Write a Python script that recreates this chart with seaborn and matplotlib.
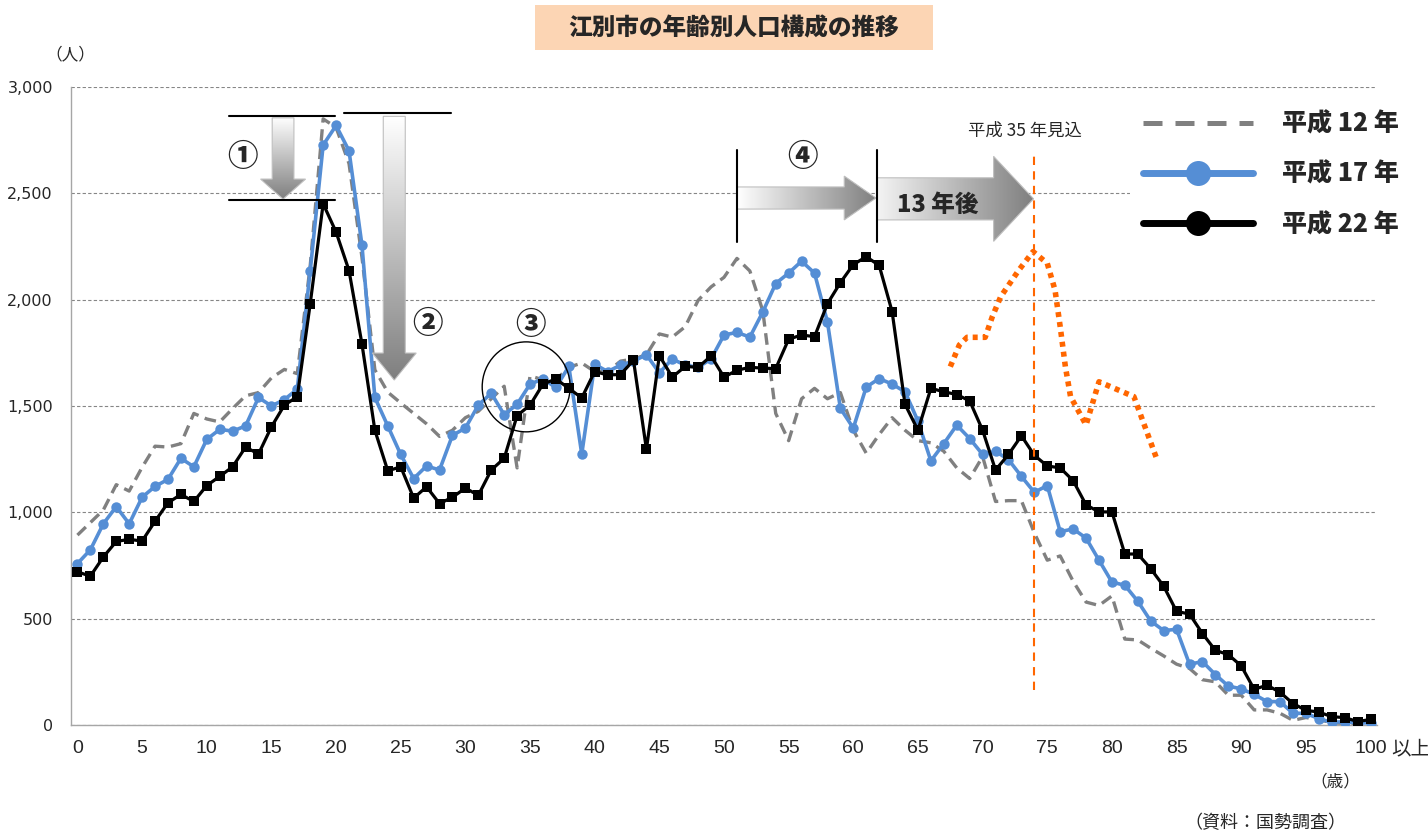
import numpy as np
import pandas as pd
import matplotlib
matplotlib.use("Agg")
import matplotlib.pyplot as plt
import seaborn as sns
from matplotlib.patches import Polygon, Ellipse, Rectangle
from matplotlib.lines import Line2D
from matplotlib.colors import LinearSegmentedColormap
from matplotlib import font_manager

# ---------------- data ----------------
ages = list(range(0, 101))
x_tick_labels = [str(a) for a in range(0, 101, 5)]
y_ticks = [0, 500, 1000, 1500, 2000, 2500, 3000]
y_tick_labels = ["0", "500", "1,000", "1,500", "2,000", "2,500", "3,000"]

h12 = [893, 952, 1011, 1130, 1100, 1212, 1311, 1307, 1323, 1465,
       1439, 1425, 1488, 1548, 1563, 1632, 1672, 1652, 2160, 2850,
       2810, 2640, 2200, 1670, 1565, 1514, 1465, 1416, 1357, 1386,
       1445, 1475, 1534, 1593, 1209, 1642, 1623, 1623, 1682, 1702,
       1662, 1662, 1711, 1721, 1741, 1839, 1824, 1873, 1997, 2060,
       2105, 2194, 2135, 1948, 1465, 1337, 1534, 1583, 1534, 1563,
       1386, 1278, 1366, 1445, 1386, 1337, 1327, 1287, 1209, 1159,
       1262, 1051, 1055, 1055, 903, 775, 795, 676, 578, 562,
       607, 404, 400, 361, 325, 286, 266, 213, 203, 140,
       140, 71, 71, 55, 22, 35, 26, 10, 8, 5, 3]

h17 = [759, 824, 946, 1027, 946, 1071, 1122, 1155, 1254, 1214,
       1343, 1390, 1382, 1406, 1540, 1500, 1530, 1579, 2136, 2727,
       2819, 2700, 2257, 1540, 1406, 1272, 1159, 1218, 1199, 1362,
       1396, 1504, 1560, 1459, 1508, 1603, 1627, 1587, 1686, 1274,
       1696, 1662, 1692, 1711, 1741, 1656, 1721, 1692, 1682, 1721,
       1834, 1846, 1824, 1942, 2076, 2125, 2181, 2125, 1895, 1489,
       1396, 1589, 1629, 1603, 1567, 1429, 1242, 1323, 1410, 1347,
       1272, 1287, 1248, 1169, 1094, 1126, 909, 922, 879, 775,
       672, 657, 582, 489, 444, 450, 286, 298, 237, 183,
       170, 144, 110, 110, 55, 55, 30, 12, 16, 10, 10]

h22 = [720, 700, 790, 863, 873, 865, 958, 1045, 1084, 1051,
       1126, 1169, 1214, 1307, 1274, 1402, 1504, 1544, 1981, 2451,
       2318, 2137, 1792, 1386, 1195, 1214, 1067, 1120, 1041, 1071,
       1114, 1080, 1199, 1254, 1455, 1504, 1603, 1627, 1583, 1538,
       1662, 1646, 1648, 1715, 1297, 1737, 1636, 1686, 1682, 1735,
       1636, 1668, 1682, 1678, 1676, 1814, 1834, 1826, 1981, 2080,
       2165, 2202, 2161, 1944, 1508, 1386, 1583, 1567, 1554, 1524,
       1386, 1199, 1272, 1360, 1268, 1218, 1209, 1149, 1035, 1002,
       1002, 804, 804, 735, 653, 534, 522, 430, 351, 331,
       278, 168, 187, 154, 101, 69, 61, 39, 35, 16, 26]

# projection for H35
proj_age = [67.5, 68.2, 68.8, 70.2, 70.75, 71.4, 72.8, 73.9, 75.0, 75.6,
            76.0, 76.4, 76.8, 78.0, 79.0, 81.7, 83.5]
proj_val = [1685, 1787, 1823, 1823, 1920, 2014, 2139, 2226, 2171, 2045,
            1873, 1685, 1544, 1411, 1614, 1544, 1246]

series_names = ["平成 12 年", "平成 17 年", "平成 22 年"]

# ---------------- style ----------------
sns.set_theme(style="white")
avail = {f.name for f in font_manager.fontManager.ttflist}
jp = "Noto Sans CJK JP"
num_font = "Liberation Sans Narrow" if "Liberation Sans Narrow" in avail else "DejaVu Sans"
plt.rcParams["font.family"] = [jp, "DejaVu Sans"]

W, H = 1428, 834
fig = plt.figure(figsize=(W / 100, H / 100), dpi=100)
fig.patch.set_facecolor("white")
L, R, B, T = 71, 1377, 725, 87
ax = fig.add_axes([L / W, 1 - B / H, (R - L) / W, (B - T) / H])
ax.set_facecolor("white")

GRAY = "#808080"
BLUE = "#558ED5"
ORANGE = "#FF6600"

df12 = pd.DataFrame({"age": ages, "pop": h12})
df17 = pd.DataFrame({"age": ages, "pop": h17})
df22 = pd.DataFrame({"age": ages, "pop": h22})
dfp = pd.DataFrame({"age": proj_age, "pop": proj_val})

sns.lineplot(data=df12, x="age", y="pop", ax=ax, color=GRAY, lw=2.4,
             linestyle=(0, (3.5, 2.0)), legend=False, zorder=3)
sns.lineplot(data=df17, x="age", y="pop", ax=ax, color=BLUE, lw=2.6,
             marker="o", markersize=7.5, markeredgewidth=0, legend=False, zorder=4)
sns.lineplot(data=df22, x="age", y="pop", ax=ax, color="black", lw=2.3,
             marker="s", markersize=7, markeredgewidth=0, legend=False, zorder=5)
sns.lineplot(data=dfp, x="age", y="pop", ax=ax, color=ORANGE, lw=4,
             linestyle=(0, (0.9, 0.9)), sort=False, legend=False, zorder=6)

# axes
ax.set_xlim(-0.5, 100.5)
ax.set_ylim(0, 3000)
ax.set_xlabel("")
ax.set_ylabel("")
for s in ["top", "right"]:
    ax.spines[s].set_visible(False)
for s in ["left", "bottom"]:
    ax.spines[s].set_color("#A6A6A6")
    ax.spines[s].set_linewidth(1.0)

ax.set_xticks(list(range(0, 101, 5)))
ax.set_xticklabels(x_tick_labels, fontsize=14, family="Liberation Sans")
ax.set_xticks(np.arange(-0.5, 101, 1.0), minor=True)
ax.tick_params(axis="x", which="major", length=0, pad=11)
ax.tick_params(axis="x", which="minor", length=5, color="#A6A6A6", width=1, direction="out")
ax.set_yticks(y_ticks)
ax.set_yticklabels(y_tick_labels, fontsize=11.5, family=num_font)
ax.tick_params(axis="y", which="major", length=5, color="#A6A6A6", width=1, pad=8, direction="out")
ax.yaxis.grid(True, color="#868686", lw=0.8, linestyle=(0, (3, 2)))
ax.xaxis.grid(False)
ax.set_axisbelow(True)

# extra axis texts
ax.text(103.1, -0.038, "以上", transform=ax.get_xaxis_transform(), fontsize=14,
        ha="center", va="center", clip_on=False)
fig.text(1335 / W, 1 - 782 / H, "（歳）", fontsize=12, ha="center", va="center")
fig.text(1265 / W, 1 - 823 / H, "（資料：国勢調査）", fontsize=13, ha="center", va="center")
fig.text(70 / W, 1 - 55 / H, "（人）", fontsize=12, ha="center", va="center")

# title box
fig.patches.append(Rectangle((535 / W, 1 - 50 / H), 398 / W, 45 / H,
                             transform=fig.transFigure, facecolor="#FCD5B4",
                             edgecolor="none", zorder=0))
fig.text(734 / W, 1 - 28 / H, "江別市の年齢別人口構成の推移", fontsize=17,
         fontweight="heavy", ha="center", va="center")


# ---------------- annotations ----------------
def grad_poly(verts, direction, c0, c1, z):
    poly = Polygon(verts, closed=True, facecolor="none", edgecolor="#BFBFBF",
                   lw=0.8, zorder=z + 0.1)
    ax.add_patch(poly)
    xs = [v[0] for v in verts]
    ys = [v[1] for v in verts]
    n = 256
    if direction == "h":
        grad = np.linspace(0, 1, n).reshape(1, n)
    else:
        grad = np.linspace(1, 0, n).reshape(n, 1)
    cmap = LinearSegmentedColormap.from_list("g", [c0, c1])
    im = ax.imshow(grad, extent=[min(xs), max(xs), min(ys), max(ys)], origin="lower",
                   cmap=cmap, aspect="auto", zorder=z, interpolation="bilinear")
    im.set_clip_path(poly)


def varrow(xc, sw, hw, y0, yh, yt, z=7):
    v = [(xc - sw, y0), (xc + sw, y0), (xc + sw, yh), (xc + hw, yh), (xc, yt),
         (xc - hw, yh), (xc - sw, yh)]
    grad_poly(v, "v", "#FFFFFF", "#7F7F7F", z)


def harrow(yc, sw, hw, x0, xh, xt, c0="#FFFFFF", z=7):
    v = [(x0, yc - sw), (x0, yc + sw), (xh, yc + sw), (xh, yc + hw), (xt, yc),
         (xh, yc - hw), (xh, yc - sw)]
    grad_poly(v, "h", c0, "#7F7F7F", z)


circ_kw = dict(fontsize=22, fontweight="heavy", ha="center", va="center", zorder=9)
# (1)
ax.plot([11.7, 19.95], [2862, 2862], color="black", lw=1.5, zorder=8)
ax.plot([11.7, 19.95], [2470, 2470], color="black", lw=1.5, zorder=8)
varrow(15.9, 0.84, 1.74, 2855, 2567, 2473)
ax.text(12.8, 2671, "①", **circ_kw)
# (2)
ax.plot([20.6, 28.9], [2876, 2876], color="black", lw=1.5, zorder=8)
varrow(24.5, 0.85, 1.7, 2862, 1749, 1622)
ax.text(27.1, 1890, "②", **circ_kw)
# (3)
ax.add_patch(Ellipse((34.7, 1590), 6.8, 423, facecolor="none", edgecolor="black",
                     lw=1.0, zorder=8))
ax.text(35.0, 1881, "③", **circ_kw)
# (4)
ax.plot([51.0, 51.0], [2271, 2704], color="black", lw=1.5, zorder=8)
ax.plot([61.8, 61.8], [2271, 2704], color="black", lw=1.5, zorder=8)
harrow(2478, 52, 103, 51.0, 59.3, 61.75)
ax.text(56.1, 2671, "④", **circ_kw)
# 13 years later
harrow(2474, 99, 200, 61.85, 70.85, 73.94, c0="#F4F4F4")
ax.text(66.5, 2445, "13 年後", fontsize=17, fontweight="heavy", ha="center",
        va="center", zorder=9)
# projection marker
ax.plot([73.94, 73.94], [165, 2690], color=ORANGE, lw=1.5, linestyle=(0, (4, 3)), zorder=6)
ax.text(73.3, 2793, "平成 35 年見込", fontsize=12.5, ha="center", va="center", zorder=9)

ax.set_xlim(-0.5, 100.5)
ax.set_ylim(0, 3000)

# ---------------- legend ----------------
handles = [
    Line2D([], [], color=GRAY, lw=3.6, linestyle=(0, (3.8, 2.6))),
    Line2D([], [], color=BLUE, lw=5, marker="o", markersize=18, markeredgewidth=0),
    Line2D([], [], color="black", lw=5, marker="o", markersize=18, markeredgewidth=0),
]
leg = fig.legend(handles, series_names, loc="upper left",
                 bbox_to_anchor=(1130 / W, 1 - 98 / H),
                 prop={"family": jp, "weight": "heavy", "size": 18},
                 frameon=True, facecolor="white", edgecolor="none", framealpha=1,
                 handlelength=4.4, handletextpad=1.2, labelspacing=0.97,
                 borderpad=0.5, borderaxespad=0)
leg.set_zorder(20)

fig.savefig("out.png", dpi=100, facecolor="white")
